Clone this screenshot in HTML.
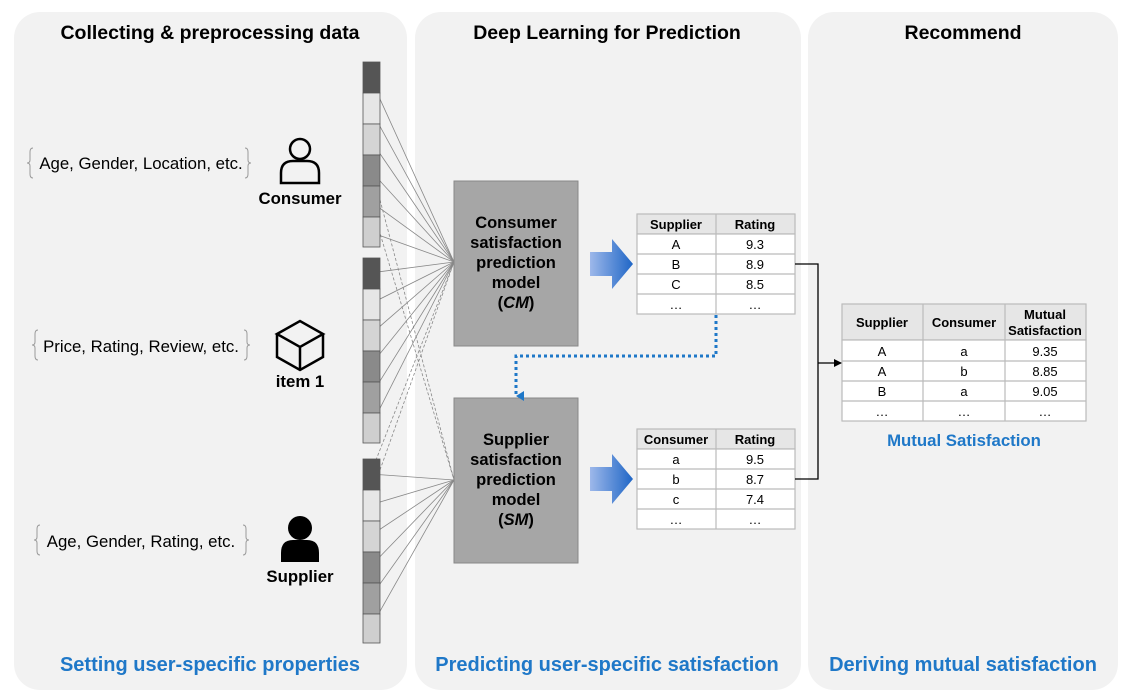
<!DOCTYPE html>
<html><head><meta charset="utf-8"><style>
html,body{margin:0;padding:0;background:#fff;}
svg{display:block;font-family:"Liberation Sans",Arial,sans-serif;}
</style></head><body>
<svg width="1130" height="700" viewBox="0 0 1130 700" xmlns="http://www.w3.org/2000/svg">
<defs>
<linearGradient id="bg" x1="0" x2="1" y1="0" y2="0"><stop offset="0" stop-color="#9db8ea"/><stop offset="1" stop-color="#1f66c6"/></linearGradient>
<marker id="ah" markerWidth="8" markerHeight="8" refX="7" refY="4" orient="auto" markerUnits="userSpaceOnUse"><path d="M0,0 L8,4 L0,8 z" fill="#000"/></marker>
<marker id="ahb" markerWidth="10" markerHeight="10" refX="5" refY="8" orient="auto" markerUnits="userSpaceOnUse"><path d="M0,0 L5,8 L10,0 z" fill="#1f78c8"/></marker>
</defs>
<rect x="14" y="12" width="393" height="678" rx="26" fill="#f2f2f2"/>
<rect x="415" y="12" width="386" height="678" rx="26" fill="#f2f2f2"/>
<rect x="808" y="12" width="310" height="678" rx="26" fill="#f2f2f2"/>

<g font-weight="bold" font-size="19.5" text-anchor="middle" fill="#000">
<text x="210" y="39">Collecting &amp; preprocessing data</text>
<text x="607" y="39">Deep Learning for Prediction</text>
<text x="963" y="39">Recommend</text>
</g>
<g font-weight="bold" font-size="20" text-anchor="middle" fill="#1f78c8">
<text x="210" y="671">Setting user-specific properties</text>
<text x="607" y="671">Predicting user-specific satisfaction</text>
<text x="963" y="671">Deriving mutual satisfaction</text>
</g>

<g font-size="16.8" fill="#000" text-anchor="middle">
<text x="141" y="169">Age, Gender, Location, etc.</text>
<text x="141" y="352">Price, Rating, Review, etc.</text>
<text x="141" y="547">Age, Gender, Rating, etc.</text>
</g>
<g fill="none" stroke="#999" stroke-width="1">
<path d="M33,148 q-3,0 -3,4 v8 q0,3 -3,3 q3,0 3,3 v8 q0,4 3,4"/>
<path d="M245,148 q3,0 3,4 v8 q0,3 3,3 q-3,0 -3,3 v8 q0,4 -3,4"/>
<path d="M38,330 q-3,0 -3,4 v8 q0,3 -3,3 q3,0 3,3 v8 q0,4 3,4"/>
<path d="M244,330 q3,0 3,4 v8 q0,3 3,3 q-3,0 -3,3 v8 q0,4 -3,4"/>
<path d="M40,525 q-3,0 -3,4 v8 q0,3 -3,3 q3,0 3,3 v8 q0,4 3,4"/>
<path d="M243,525 q3,0 3,4 v8 q0,3 3,3 q-3,0 -3,3 v8 q0,4 -3,4"/>
</g>

<g stroke="#000" stroke-width="2.5" fill="none">
<circle cx="300" cy="149" r="10"/>
<path d="M281,183 v-10 q0,-12 12,-12 h14 q12,0 12,12 v10 z"/>
<path d="M277,334 l23,-13 l23,13 l-23,13 z M277,334 v23 l23,13 l23,-13 v-23 M300,347 v23"/>
</g>
<g fill="#000">
<circle cx="300" cy="528" r="12"/>
<path d="M281,562 v-9 q0,-13 12,-13 h14 q12,0 12,13 v9 z"/>
</g>
<g font-weight="bold" font-size="16.8" text-anchor="middle">
<text x="300" y="204">Consumer</text>
<text x="300" y="387">item 1</text>
<text x="300" y="582">Supplier</text>
</g>

<g stroke="#888" stroke-width="0.8">
<line x1="370" y1="77" x2="454" y2="262"/><line x1="370" y1="108" x2="454" y2="262"/><line x1="370" y1="139" x2="454" y2="262"/><line x1="370" y1="170" x2="454" y2="262"/><line x1="370" y1="201" x2="454" y2="262"/><line x1="370" y1="232" x2="454" y2="262"/>
<line x1="370" y1="273" x2="454" y2="262"/><line x1="370" y1="304" x2="454" y2="262"/><line x1="370" y1="335" x2="454" y2="262"/><line x1="370" y1="366" x2="454" y2="262"/><line x1="370" y1="397" x2="454" y2="262"/><line x1="370" y1="428" x2="454" y2="262"/>
<line x1="370" y1="474" x2="454" y2="480"/><line x1="370" y1="505" x2="454" y2="480"/><line x1="370" y1="536" x2="454" y2="480"/><line x1="370" y1="567" x2="454" y2="480"/><line x1="370" y1="598" x2="454" y2="480"/><line x1="370" y1="629" x2="454" y2="480"/>
</g>
<g stroke="#888" stroke-width="0.8" stroke-dasharray="3,2">
<line x1="376" y1="220" x2="454" y2="480"/><line x1="380" y1="200" x2="454" y2="480"/>
<line x1="374" y1="465" x2="454" y2="262"/><line x1="380" y1="470" x2="454" y2="262"/>
</g>

<g stroke="#555" stroke-width="0.8">
<rect x="363" y="62" width="17" height="31" fill="#555"/><rect x="363" y="93" width="17" height="31" fill="#e6e6e6"/><rect x="363" y="124" width="17" height="31" fill="#d4d4d4"/><rect x="363" y="155" width="17" height="31" fill="#8a8a8a"/><rect x="363" y="186" width="17" height="31" fill="#a0a0a0"/><rect x="363" y="217" width="17" height="30" fill="#cfcfcf"/>
<rect x="363" y="258" width="17" height="31" fill="#555"/><rect x="363" y="289" width="17" height="31" fill="#e6e6e6"/><rect x="363" y="320" width="17" height="31" fill="#d4d4d4"/><rect x="363" y="351" width="17" height="31" fill="#8a8a8a"/><rect x="363" y="382" width="17" height="31" fill="#a0a0a0"/><rect x="363" y="413" width="17" height="30" fill="#cfcfcf"/>
<rect x="363" y="459" width="17" height="31" fill="#555"/><rect x="363" y="490" width="17" height="31" fill="#e6e6e6"/><rect x="363" y="521" width="17" height="31" fill="#d4d4d4"/><rect x="363" y="552" width="17" height="31" fill="#8a8a8a"/><rect x="363" y="583" width="17" height="31" fill="#a0a0a0"/><rect x="363" y="614" width="17" height="29" fill="#cfcfcf"/>
</g>

<rect x="454" y="181" width="124" height="165" fill="#a6a6a6" stroke="#888"/>
<rect x="454" y="398" width="124" height="165" fill="#a6a6a6" stroke="#888"/>
<g font-weight="bold" font-size="16.5" text-anchor="middle">
<text x="516" y="228">Consumer</text><text x="516" y="248">satisfaction</text><text x="516" y="268">prediction</text><text x="516" y="288">model</text><text x="516" y="308">(<tspan font-style="italic">CM</tspan>)</text>
<text x="516" y="445">Supplier</text><text x="516" y="465">satisfaction</text><text x="516" y="485">prediction</text><text x="516" y="505">model</text><text x="516" y="525">(<tspan font-style="italic">SM</tspan>)</text>
</g>

<path d="M590,252 h22 v-13 l21,25 l-21,25 v-13 h-22 z" fill="url(#bg)"/>
<path d="M590,467 h22 v-13 l21,25 l-21,25 v-13 h-22 z" fill="url(#bg)"/>

<g stroke="#bbb" stroke-width="1.2" fill="#fff">
<rect x="637" y="214" width="158" height="20" fill="#e6e6e6"/>
<rect x="637" y="234" width="158" height="80"/>
<line x1="637" y1="254" x2="795" y2="254"/><line x1="637" y1="274" x2="795" y2="274"/><line x1="637" y1="294" x2="795" y2="294"/><line x1="716" y1="214" x2="716" y2="314"/>
<rect x="637" y="429" width="158" height="20" fill="#e6e6e6"/>
<rect x="637" y="449" width="158" height="80"/>
<line x1="637" y1="469" x2="795" y2="469"/><line x1="637" y1="489" x2="795" y2="489"/><line x1="637" y1="509" x2="795" y2="509"/><line x1="716" y1="429" x2="716" y2="529"/>
<rect x="842" y="304" width="244" height="36" fill="#e6e6e6"/>
<rect x="842" y="340" width="244" height="81"/>
<line x1="842" y1="361" x2="1086" y2="361"/><line x1="842" y1="381" x2="1086" y2="381"/><line x1="842" y1="401" x2="1086" y2="401"/><line x1="923" y1="304" x2="923" y2="421"/><line x1="1005" y1="304" x2="1005" y2="421"/>
</g>
<g font-size="13" text-anchor="middle">
<g font-weight="bold"><text x="676" y="229">Supplier</text><text x="755" y="229">Rating</text>
<text x="676" y="444">Consumer</text><text x="755" y="444">Rating</text>
<text x="882" y="327">Supplier</text><text x="964" y="327">Consumer</text><text x="1045" y="319">Mutual</text><text x="1045" y="335">Satisfaction</text></g>
<text x="676" y="249">A</text><text x="755" y="249">9.3</text>
<text x="676" y="269">B</text><text x="755" y="269">8.9</text>
<text x="676" y="289">C</text><text x="755" y="289">8.5</text>
<text x="676" y="309">…</text><text x="755" y="309">…</text>
<text x="676" y="464">a</text><text x="755" y="464">9.5</text>
<text x="676" y="484">b</text><text x="755" y="484">8.7</text>
<text x="676" y="504">c</text><text x="755" y="504">7.4</text>
<text x="676" y="524">…</text><text x="755" y="524">…</text>
<text x="882" y="356">A</text><text x="964" y="356">a</text><text x="1045" y="356">9.35</text>
<text x="882" y="376">A</text><text x="964" y="376">b</text><text x="1045" y="376">8.85</text>
<text x="882" y="396">B</text><text x="964" y="396">a</text><text x="1045" y="396">9.05</text>
<text x="882" y="416">…</text><text x="964" y="416">…</text><text x="1045" y="416">…</text>
</g>
<text x="964" y="446" font-size="16.8" font-weight="bold" fill="#1f78c8" text-anchor="middle">Mutual Satisfaction</text>

<path d="M795,264 H818 V479 H795" fill="none" stroke="#000" stroke-width="1.3"/>
<line x1="818" y1="363" x2="841" y2="363" stroke="#000" stroke-width="1.3" marker-end="url(#ah)"/>
<path d="M716,315 V356 H516 V396" fill="none" stroke="#1f78c8" stroke-width="3" stroke-dasharray="3,3" marker-end="url(#ahb)"/>
</svg>
</body></html>
